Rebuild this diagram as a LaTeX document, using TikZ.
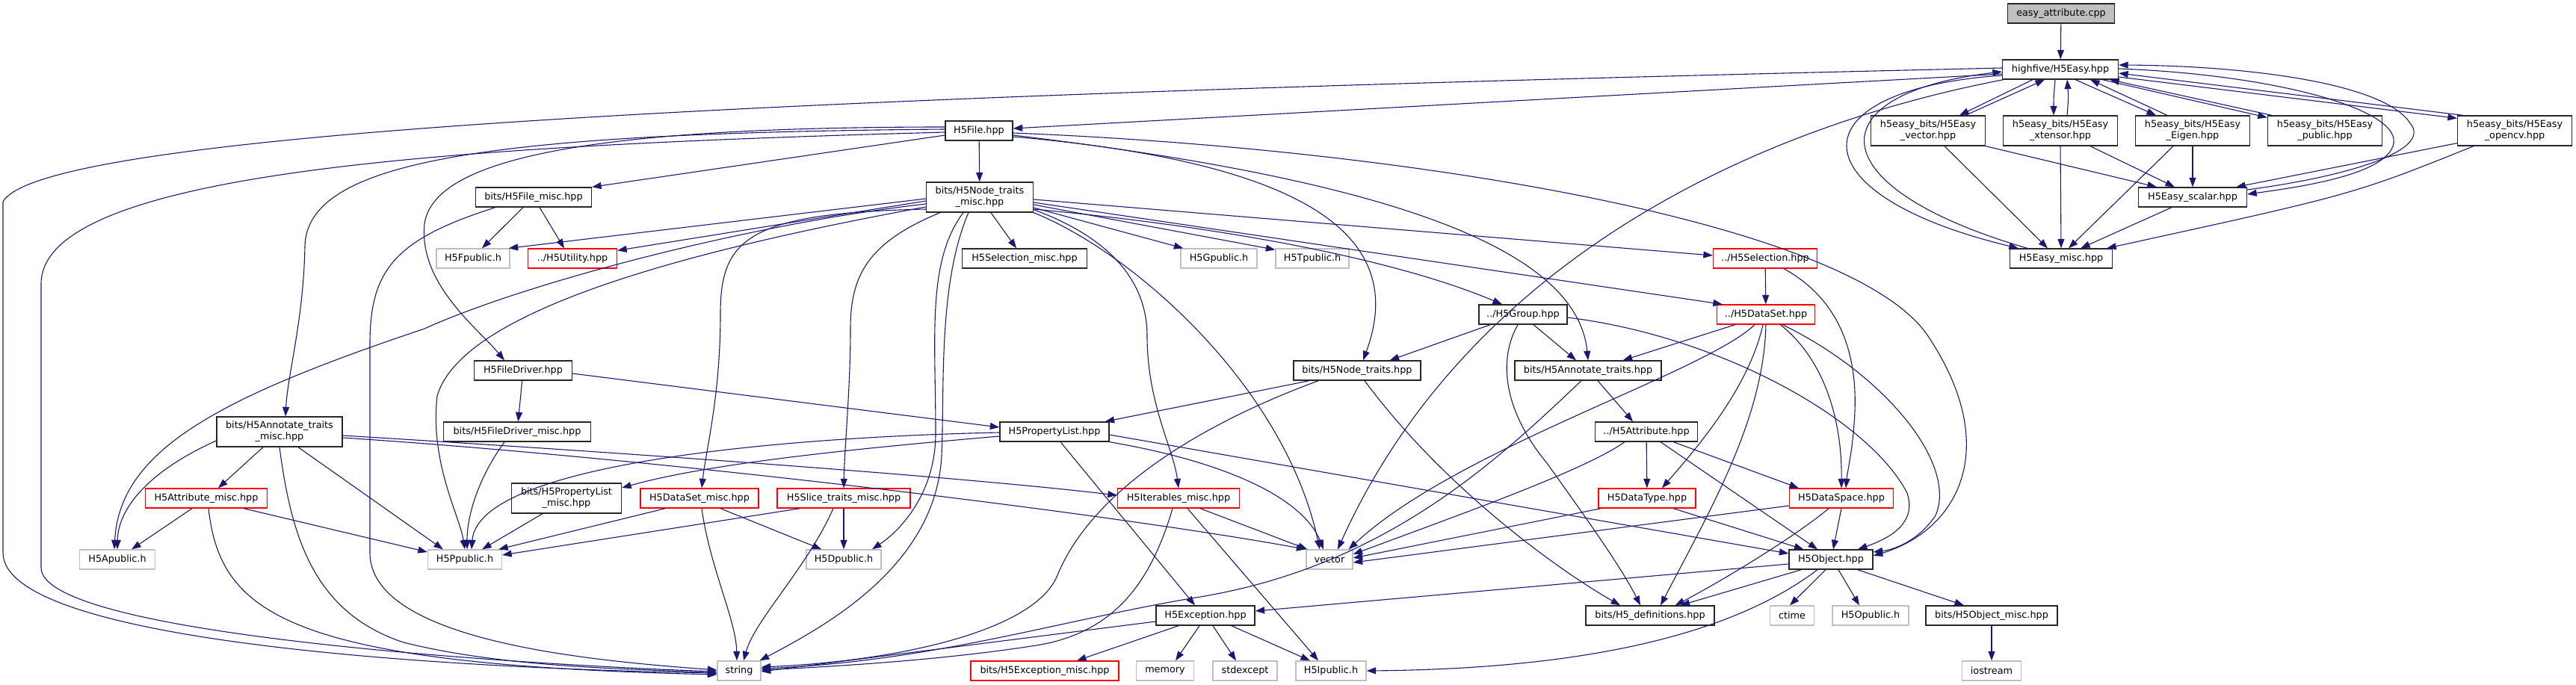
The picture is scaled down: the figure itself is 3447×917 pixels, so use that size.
\documentclass[tikz,border=0pt]{standalone}
\usepackage{fontspec}
\setmainfont{DejaVu Sans}
\usetikzlibrary{arrows.meta,calc}
\definecolor{edgeblue}{HTML}{191970}
\definecolor{extgray}{HTML}{BFBFBF}
\begin{document}
\begin{tikzpicture}[x=1pt,y=-1pt,
 box/.style={rectangle, draw=black!85, line width=1.3pt, fill=white, inner sep=0pt, align=center, font=\fontsize{12.8}{15}\selectfont, text=black, minimum height=26pt},
 tall/.style={minimum height=40pt},
 ext/.style={box, draw=extgray},
 trunc/.style={box, draw=red},
 rootbox/.style={box, fill=extgray},
 dep/.style={draw=edgeblue, line width=1.1pt, -{Triangle[length=12.5pt,width=9pt]}}]
\fill[white] (0,0) rectangle (3447,917);
\useasboundingbox (0,0) rectangle (3447,917);
% ---------- nodes ----------
\node[rootbox, minimum width=143pt] (root) at (2758,18) {easy\_attribute.cpp};
\node[box, minimum width=155pt] (easy) at (2757,93) {highfive/H5Easy.hpp};
\node[box, tall, minimum width=153pt] (ev) at (2580,175) {h5easy\_bits/H5Easy\\\_vector.hpp};
\node[box, tall, minimum width=153pt] (ex) at (2757,175) {h5easy\_bits/H5Easy\\\_xtensor.hpp};
\node[box, tall, minimum width=153pt] (ee) at (2934,175) {h5easy\_bits/H5Easy\\\_Eigen.hpp};
\node[box, tall, minimum width=153pt] (ep) at (3111,175) {h5easy\_bits/H5Easy\\\_public.hpp};
\node[box, tall, minimum width=153pt] (eo) at (3365,175) {h5easy\_bits/H5Easy\\\_opencv.hpp};
\node[box, minimum width=145pt] (es) at (2934,264) {H5Easy\_scalar.hpp};
\node[box, minimum width=137pt] (em) at (2758,346) {H5Easy\_misc.hpp};
\node[box, minimum width=90pt] (file) at (1310,175) {H5File.hpp};
\node[box, tall, minimum width=143pt] (ntm) at (1311,264) {bits/H5Node\_traits\\\_misc.hpp};
\node[box, minimum width=155pt] (fm) at (714,264) {bits/H5File\_misc.hpp};
\node[ext, minimum width=98pt] (fpub) at (633,346) {H5Fpublic.h};
\node[trunc, minimum width=119pt] (util) at (766,346) {../H5Utility.hpp};
\node[box, minimum width=167pt] (selm) at (1371,346) {H5Selection\_misc.hpp};
\node[ext, minimum width=102pt] (gpub) at (1631,346) {H5Gpublic.h};
\node[ext, minimum width=98pt] (tpub) at (1756,346) {H5Tpublic.h};
\node[trunc, minimum width=139pt] (sel) at (2362,346) {../H5Selection.hpp};
\node[box, minimum width=118pt] (grp) at (2038,421) {../H5Group.hpp};
\node[trunc, minimum width=131pt] (ds) at (2363,421) {../H5DataSet.hpp};
\node[box, minimum width=131pt] (fd) at (700,496) {H5FileDriver.hpp};
\node[box, minimum width=170pt] (nt) at (1816,496) {bits/H5Node\_traits.hpp};
\node[box, minimum width=196pt] (at) at (2125,496) {bits/H5Annotate\_traits.hpp};
\node[box, tall, minimum width=168pt] (atm) at (374,578) {bits/H5Annotate\_traits\\\_misc.hpp};
\node[box, minimum width=197pt] (fdm) at (692,578) {bits/H5FileDriver\_misc.hpp};
\node[box, minimum width=146pt] (pl) at (1411,578) {H5PropertyList.hpp};
\node[box, minimum width=137pt] (attr) at (2203,578) {../H5Attribute.hpp};
\node[trunc, minimum width=163pt] (attrm) at (276,667) {H5Attribute\_misc.hpp};
\node[box, tall, minimum width=147pt] (plm) at (758,667) {bits/H5PropertyList\\\_misc.hpp};
\node[trunc, minimum width=158pt] (dsm) at (936,667) {H5DataSet\_misc.hpp};
\node[trunc, minimum width=178pt] (slm) at (1129,667) {H5Slice\_traits\_misc.hpp};
\node[trunc, minimum width=163pt] (itm) at (1577,667) {H5Iterables\_misc.hpp};
\node[trunc, minimum width=130pt] (dt) at (2204,667) {H5DataType.hpp};
\node[trunc, minimum width=139pt] (dsp) at (2464,667) {H5DataSpace.hpp};
\node[ext, minimum width=101pt] (apub) at (157,749) {H5Apublic.h};
\node[ext, minimum width=99pt] (ppub) at (622,749) {H5Ppublic.h};
\node[ext, minimum width=100pt] (dpub) at (1129,749) {H5Dpublic.h};
\node[ext, minimum width=62pt] (vec) at (1779,749) {vector};
\node[box, minimum width=112pt] (obj) at (2450,749) {H5Object.hpp};
\node[box, minimum width=132pt] (exc) at (1613,824) {H5Exception.hpp};
\node[box, minimum width=172pt] (def) at (2208,824) {bits/H5\_definitions.hpp};
\node[ext, minimum width=59pt] (ctime) at (2398,824) {ctime};
\node[ext, minimum width=102pt] (opub) at (2503,824) {H5Opublic.h};
\node[box, minimum width=176pt] (objm) at (2665,824) {bits/H5Object\_misc.hpp};
\node[ext, minimum width=58pt] (str) at (989,898) {string};
\node[trunc, minimum width=198pt] (excm) at (1398,898) {bits/H5Exception\_misc.hpp};
\node[ext, minimum width=77pt] (mem) at (1559,898) {memory};
\node[ext, minimum width=86pt] (stdx) at (1666,898) {stdexcept};
\node[ext, minimum width=94pt] (ipub) at (1781,898) {H5Ipublic.h};
\node[ext, minimum width=79pt] (ios) at (2665,898) {iostream};
% ---------- H5Easy cluster ----------
\draw[dep] (root) -- (easy);
\draw[dep] ($(easy.south)+(-37,0)$) -- ($(ev.north)+(42,0)$);
\draw[dep] ($(ev.north)+(50,0)$) -- ($(easy.south)+(-21,0)$);
\draw[dep] ($(easy.south)+(-7,0)$) .. controls (2748,130) .. ($(ex.north)+(-9,0)$);
\draw[dep] ($(ex.north)+(9,0)$) .. controls (2768,130) .. ($(easy.south)+(9,0)$);
\draw[dep] ($(easy.south)+(20,0)$) -- ($(ee.north)+(-49,0)$);
\draw[dep] ($(ee.north)+(-34,0)$) -- ($(easy.south)+(40,0)$);
\draw[dep] ($(easy.south)+(56,0)$) -- ($(ep.north west)+(0,3)$);
\draw[dep] ($(ep.north west)+(6,0)$) -- ($(easy.south east)+(-12,0)$);
\draw[dep] ($(easy.east)+(0,10)$) -- ($(eo.north west)+(0,4)$);
\draw[dep] ($(eo.north west)+(8,0)$) -- ($(easy.east)+(0,5)$);
\draw[dep] ($(easy.east)+(0,-1)$) .. controls (3050,100) and (3230,150) .. (3200,200) .. controls (3180,235) and (3080,250) .. ($(es.east)+(0,-4)$);
\draw[dep] ($(es.east)+(0,-10)$) .. controls (3150,235) and (3255,200) .. (3225,165) .. controls (3190,110) and (3000,88) .. ($(easy.east)+(0,-6)$);
\draw[dep] ($(easy.west)+(0,8)$) .. controls (2400,120) and (2400,260) .. ($(em.north west)+(12,0)$);
\draw[dep] ($(em.north west)+(24,0)$) .. controls (2430,250) and (2430,125) .. ($(easy.west)+(0,3)$);
\draw[dep] (ev.south east) -- ($(es.north west)+(25,0)$);
\draw[dep] ($(ev.south)+(22,0)$) -- ($(em.north)+(-18,0)$);
\draw[dep] ($(ex.south)+(40,0)$) -- ($(es.north)+(-24,0)$);
\draw[dep] (ex.south) -- (em.north);
\draw[dep] (ee.south) -- (es.north);
\draw[dep] ($(ee.south)+(-26,0)$) -- ($(em.north)+(10,0)$);
\draw[dep] ($(eo.south west)+(0,-4)$) -- ($(es.north east)+(-15,0)$);
\draw[dep] ($(eo.south west)+(22,0)$) .. controls (3150,260) .. ($(em.north east)+(-8,0)$);
\draw[dep] ($(es.south)+(-28,0)$) -- ($(em.north east)+(-43,0)$);
% ---------- H5Easy outgoing ----------
\draw[dep] ($(easy.west)+(0,6)$) -- ($(file.east)+(0,-3)$);
\draw[dep] ($(easy.west)+(0,-2)$) .. controls (1200,125) and (60,170) .. (4,270) -- (4,740) .. controls (4,860) and (600,895) .. ($(str.west)+(0,3)$);
\draw[dep] ($(easy.south west)+(2,0)$) .. controls (2300,180) and (1950,380) .. ($(vec.north)+(11,0)$);
% ---------- H5File ----------
\draw[dep] (file) -- (ntm);
\draw[dep] ($(file.west)+(0,6)$) -- (fm.north east);
\draw[dep] ($(file.west)+(0,2)$) .. controls (600,195) and (55,230) .. (55,380) -- (55,760) .. controls (55,850) and (700,890) .. ($(str.west)+(0,1)$);
\draw[dep] ($(file.west)+(0,-2)$) .. controls (650,178) and (410,215) .. (408,330) .. controls (406,430) and (385,500) .. ($(atm.north)+(8,0)$);
\draw[dep] ($(file.west)+(0,-5)$) .. controls (800,170) and (580,210) .. (568,300) .. controls (560,380) and (640,440) .. ($(fd.north)+(-25,0)$);
\draw[dep] ($(file.east)+(0,3)$) .. controls (1900,200) and (2480,300) .. (2580,450) .. controls (2680,600) and (2620,710) .. ($(obj.east)+(0,-5)$);
\draw[dep] ($(file.east)+(0,8)$) .. controls (1780,220) and (1880,330) .. ($(nt.north)+(8,0)$);
\draw[dep] ($(file.east)+(0,6)$) .. controls (1850,240) and (2110,330) .. (at.north);
% ---------- H5Node_traits_misc ----------
\draw[dep] ($(ntm.west)+(0,2)$) -- ($(fpub.north east)+(-2,0)$);
\draw[dep] ($(ntm.west)+(0,5)$) -- ($(util.north east)+(0,3)$);
\draw[dep] ($(ntm.west)+(0,9)$) .. controls (1000,300) and (700,380) .. (568,440) .. controls (300,530) and (160,600) .. ($(apub.north)+(-4,0)$);
\draw[dep] ($(ntm.west)+(0,13)$) .. controls (950,330) and (620,410) .. (585,530) .. controls (575,620) and (615,690) .. (ppub.north);
\draw[dep] ($(ntm.west)+(0,16)$) .. controls (1000,285) and (964,320) .. (964,420) .. controls (964,530) and (945,600) .. ($(dsm.north)+(3,0)$);
\draw[dep] ($(ntm.south)+(-53,0)$) .. controls (1160,325) and (1138,370) .. (1138,440) .. controls (1138,520) and (1130,600) .. (slm.north);
\draw[dep] ($(ntm.south)+(-22,0)$) .. controls (1240,350) and (1252,450) .. (1252,580) .. controls (1252,660) and (1205,710) .. ($(dpub.north)+(38,0)$);
\draw[dep] ($(ntm.south)+(-15,0)$) .. controls (1255,380) and (1264,520) .. (1260,610) .. controls (1252,760) and (1100,840) .. ($(str.north east)+(-2,0)$);
\draw[dep] ($(ntm.south)+(15,0)$) -- ($(selm.north)+(-11,0)$);
\draw[dep] ($(ntm.south east)+(0,-4)$) .. controls (1490,320) and (1535,380) .. (1535,450) .. controls (1535,540) and (1570,600) .. (itm.north);
\draw[dep] (ntm.south east) .. controls (1520,340) and (1720,520) .. ($(vec.north)+(-13,0)$);
\draw[dep] ($(ntm.east)+(0,14)$) -- ($(gpub.north west)+(4,0)$);
\draw[dep] ($(ntm.east)+(0,10)$) -- ($(tpub.north west)+(0,2)$);
\draw[dep] ($(ntm.east)+(0,16)$) .. controls (1600,300) and (1850,340) .. ($(grp.north)+(-28,0)$);
\draw[dep] ($(ntm.east)+(0,3)$) -- ($(sel.west)+(0,-4)$);
\draw[dep] ($(ntm.east)+(0,7)$) -- ($(ds.north west)+(8,0)$);
% ---------- H5File_misc ----------
\draw[dep] ($(fm.south)+(-14,0)$) -- ($(fpub.north)+(12,0)$);
\draw[dep] ($(fm.south)+(8,0)$) -- ($(util.north)+(-11,0)$);
\draw[dep] ($(fm.south west)+(27,0)$) .. controls (530,320) and (495,360) .. (495,460) -- (495,740) .. controls (495,860) and (800,885) .. ($(str.west)+(0,-1)$);
% ---------- H5FileDriver ----------
\draw[dep] (fd) -- (fdm);
\draw[dep] ($(fd.east)+(0,4)$) -- ($(pl.west)+(0,-6)$);
\draw[dep] ($(fdm.south)+(-17,0)$) .. controls (640,640) and (625,690) .. ($(ppub.north)+(3,0)$);
% ---------- H5Annotate_traits_misc ----------
\draw[dep] ($(atm.west)+(0,12)$) .. controls (200,630) and (158,680) .. (apub.north);
\draw[dep] ($(atm.south)+(-22,0)$) -- ($(attrm.north)+(16,0)$);
\draw[dep] (atm.south) .. controls (390,720) and (420,820) .. (540,860) .. controls (680,895) and (850,895) .. ($(str.west)+(0,3)$);
\draw[dep] ($(atm.south)+(25,0)$) -- ($(ppub.north west)+(21,0)$);
\draw[dep] ($(atm.east)+(0,5)$) .. controls (900,610) and (1300,640) .. ($(itm.west)+(0,-4)$);
\draw[dep] ($(atm.east)+(0,8)$) .. controls (900,615) and (1500,690) .. (vec.north west);
% ---------- H5Attribute_misc ----------
\draw[dep] ($(attrm.south)+(-19,0)$) -- ($(apub.north east)+(-32,0)$);
\draw[dep] ($(attrm.south)+(3,0)$) .. controls (295,820) and (380,890) .. ($(str.west)+(0,5)$);
\draw[dep] ($(attrm.south east)+(-32,0)$) -- ($(ppub.west)+(0,-10)$);
% ---------- misc -> public headers ----------
\draw[dep] ($(plm.south)+(-32,0)$) -- ($(ppub.north east)+(-27,0)$);
\draw[dep] ($(dsm.south west)+(34,0)$) -- ($(ppub.north east)+(-5,0)$);
\draw[dep] ($(dsm.south)+(28,0)$) -- ($(dpub.north west)+(21,0)$);
\draw[dep] ($(dsm.south)+(3,0)$) .. controls (950,760) and (985,830) .. ($(str.north)+(-3,0)$);
\draw[dep] ($(slm.south west)+(31,0)$) -- ($(ppub.east)+(0,-6)$);
\draw[dep] (slm) -- (dpub);
\draw[dep] ($(slm.south)+(-14,0)$) .. controls (1080,760) and (1010,830) .. ($(str.north)+(6,0)$);
% ---------- H5PropertyList ----------
\draw[dep] ($(pl.west)+(0,6)$) .. controls (1150,600) and (950,620) .. ($(plm.east)+(0,-14)$);
\draw[dep] ($(pl.west)+(0,1)$) .. controls (1050,585) and (640,620) .. ($(ppub.north)+(9,0)$);
\draw[dep] (pl.south east) .. controls (1650,620) and (1745,670) .. ($(vec.north)+(-8,0)$);
\draw[dep] ($(pl.south)+(8,0)$) -- ($(exc.north)+(-14,0)$);
\draw[dep] ($(pl.east)+(0,4)$) -- ($(obj.west)+(0,-8)$);
% ---------- H5Iterables_misc ----------
\draw[dep] ($(itm.south)+(29,0)$) -- ($(vec.north west)+(2,0)$);
\draw[dep] ($(itm.south)+(-8,0)$) .. controls (1540,780) and (1490,850) .. (1380,865) .. controls (1250,885) and (1100,893) .. ($(str.east)+(0,-1)$);
\draw[dep] ($(itm.south)+(12,0)$) -- ($(ipub.north)+(-17,0)$);
% ---------- H5Node_traits ----------
\draw[dep] ($(nt.south west)+(22,0)$) -- ($(pl.north east)+(-6,0)$);
\draw[dep] ($(nt.south west)+(34,0)$) .. controls (1600,570) and (1460,660) .. (1415,770) .. controls (1385,845) and (1200,885) .. ($(str.east)+(0,-5)$);
\draw[dep] ($(nt.south)+(10,0)$) .. controls (1930,650) and (2080,760) .. ($(def.north)+(-40,0)$);
% ---------- H5Annotate_traits ----------
\draw[dep] ($(at.south)+(13,0)$) -- ($(attr.north)+(-18,0)$);
\draw[dep] ($(at.south)+(-9,0)$) .. controls (2000,620) and (1850,760) .. (1600,800) .. controls (1420,830) and (1250,885) .. ($(str.east)+(0,-3)$);
% ---------- H5Group ----------
\draw[dep] ($(grp.south west)+(16,0)$) -- ($(nt.north east)+(-42,0)$);
\draw[dep] ($(grp.south)+(14,0)$) -- ($(at.north)+(-16,0)$);
\draw[dep] ($(grp.south)+(-7,0)$) .. controls (2000,490) and (2020,560) .. (2070,620) .. controls (2120,690) and (2170,760) .. ($(def.north)+(-13,0)$);
\draw[dep] ($(grp.east)+(0,4)$) .. controls (2300,450) and (2500,560) .. (2552,660) .. controls (2565,700) and (2530,720) .. ($(obj.north)+(36,0)$);
% ---------- H5Selection / H5DataSet ----------
\draw[dep] (sel) -- (ds);
\draw[dep] ($(sel.south)+(25,0)$) .. controls (2460,400) and (2485,470) .. (2482,550) .. controls (2480,600) and (2472,630) .. ($(dsp.north)+(6,0)$);
\draw[dep] ($(ds.south west)+(25,0)$) -- ($(at.north east)+(-52,0)$);
\draw[dep] ($(ds.south)+(-15,0)$) .. controls (2280,500) and (1950,600) .. ($(vec.north east)+(-6,0)$);
\draw[dep] ($(ds.south)+(-4,0)$) .. controls (2340,520) and (2270,600) .. ($(dt.north)+(20,0)$);
\draw[dep] (ds.south) .. controls (2360,560) and (2290,680) .. ($(def.north)+(14,0)$);
\draw[dep] ($(ds.south east)+(-47,0)$) .. controls (2440,480) and (2465,560) .. (dsp.north);
\draw[dep] ($(ds.south east)+(-44,0)$) .. controls (2520,500) and (2620,620) .. (2590,690) .. controls (2570,720) and (2540,735) .. ($(obj.east)+(0,-10)$);
% ---------- H5Attribute ----------
\draw[dep] ($(attr.south)+(-29,0)$) .. controls (2120,630) and (1950,690) .. ($(vec.east)+(0,-7)$);
\draw[dep] (attr) -- (dt);
\draw[dep] ($(attr.south)+(19,0)$) -- ($(obj.north)+(-18,0)$);
\draw[dep] ($(attr.south east)+(-33,0)$) -- ($(dsp.north west)+(13,0)$);
% ---------- H5DataType / H5DataSpace ----------
\draw[dep] ($(dt.south west)+(4,0)$) -- ($(vec.east)+(0,-2)$);
\draw[dep] ($(dt.south)+(35,0)$) -- ($(obj.north west)+(20,0)$);
\draw[dep] ($(dsp.west)+(0,10)$) -- ($(vec.east)+(0,4)$);
\draw[dep] (dsp.south) -- ($(obj.north)+(3,0)$);
\draw[dep] ($(dsp.south)+(-17,0)$) .. controls (2400,720) and (2300,780) .. ($(def.north east)+(-53,0)$);
% ---------- H5Object ----------
\draw[dep] ($(obj.west)+(0,6)$) -- ($(exc.east)+(0,-6)$);
\draw[dep] ($(obj.south west)+(17,0)$) -- ($(def.north east)+(-46,0)$);
\draw[dep] ($(obj.south)+(-18,0)$) .. controls (2330,840) and (2150,895) .. (ipub.east);
\draw[dep] ($(obj.south)+(-7,0)$) -- ($(ctime.north)+(-3,0)$);
\draw[dep] ($(obj.south)+(10,0)$) -- ($(opub.north)+(-15,0)$);
\draw[dep] ($(obj.south east)+(-21,0)$) -- ($(objm.north)+(-37,0)$);
\draw[dep] (objm) -- (ios);
% ---------- H5Exception ----------
\draw[dep] ($(exc.south)+(-36,0)$) -- ($(excm.north)+(43,0)$);
\draw[dep] ($(exc.south)+(-8,0)$) -- ($(mem.north)+(14,0)$);
\draw[dep] ($(exc.south)+(10,0)$) -- ($(stdx.north)+(-12,0)$);
\draw[dep] ($(exc.south east)+(-32,0)$) -- ($(ipub.north)+(-28,0)$);
\draw[dep] ($(exc.west)+(0,8)$) -- ($(str.east)+(0,1)$);
\end{tikzpicture}
\end{document}
